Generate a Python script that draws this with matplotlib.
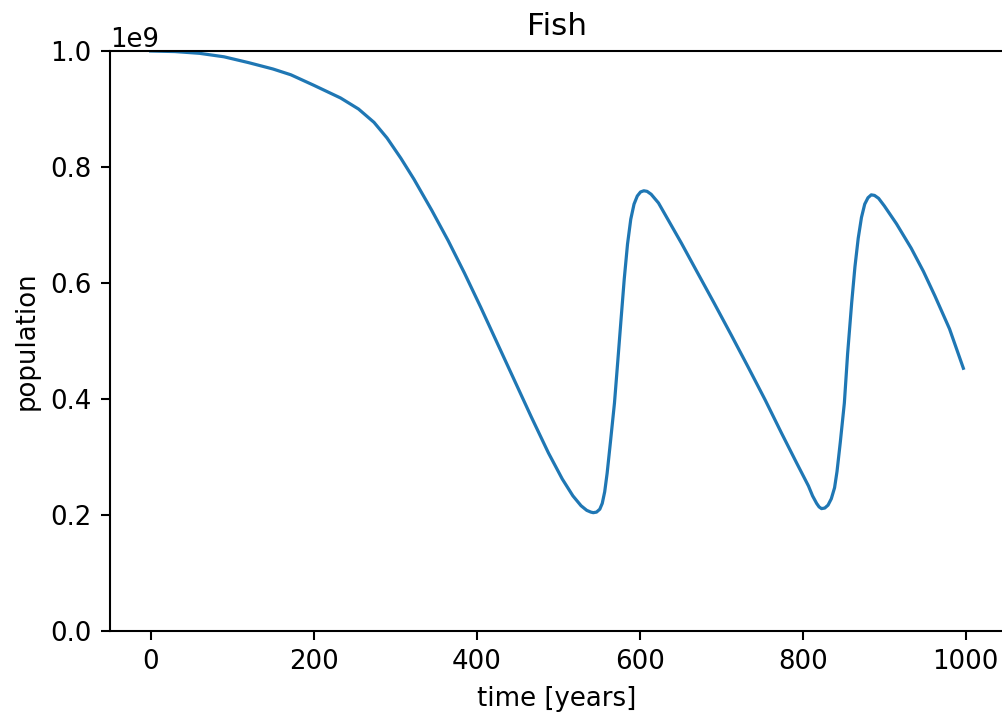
import numpy as np
import matplotlib
matplotlib.use("Agg")
import matplotlib.pyplot as plt

# Fish population over time (population in units of 1e9)
years = [0, 30, 60, 90, 120, 150, 172, 200, 233, 255, 274, 290, 307, 323,
         345, 365, 385, 405, 425, 446, 467, 488, 505, 518, 528, 535, 540,
         543, 547, 551, 554, 557, 560, 564, 569, 573, 577, 581, 585, 589,
         593, 597, 601, 605, 609, 614, 623, 636, 651, 670, 691, 712, 733,
         754, 774, 792, 807, 812, 817, 820, 823, 827, 831, 835, 839, 842,
         846, 851, 855, 860, 864, 868, 872, 876, 880, 884, 888, 893, 900,
         915, 933, 948, 962, 980, 997]
population = [1.000, 0.999, 0.996, 0.990, 0.980, 0.969, 0.959, 0.941, 0.919,
              0.900, 0.877, 0.850, 0.815, 0.779, 0.725, 0.673, 0.617, 0.558,
              0.497, 0.433, 0.369, 0.307, 0.262, 0.233, 0.216, 0.208, 0.205,
              0.204, 0.205, 0.210, 0.220, 0.240, 0.272, 0.325, 0.393, 0.464,
              0.536, 0.607, 0.667, 0.710, 0.736, 0.750, 0.757, 0.759, 0.758,
              0.753, 0.738, 0.706, 0.669, 0.620, 0.566, 0.511, 0.455, 0.398,
              0.341, 0.291, 0.250, 0.233, 0.220, 0.214, 0.211, 0.212, 0.217,
              0.228, 0.247, 0.275, 0.325, 0.393, 0.478, 0.566, 0.628, 0.677,
              0.713, 0.736, 0.747, 0.752, 0.751, 0.746, 0.733, 0.702, 0.660,
              0.620, 0.578, 0.521, 0.453]

S = 1.87
plt.rcParams.update({
    "font.family": "DejaVu Sans",
    "font.size": 10 * S,
    "lines.linewidth": 2.3,
    "lines.solid_joinstyle": "round",
    "axes.linewidth": 0.8 * S,
    "xtick.major.size": 3.5 * S,
    "ytick.major.size": 3.5 * S,
    "xtick.major.width": 0.8 * S,
    "ytick.major.width": 0.8 * S,
    "xtick.major.pad": 3.5 * S,
    "ytick.major.pad": 3.5 * S,
    "axes.titlepad": 6 * S,
    "axes.labelpad": 4 * S,
})

fig = plt.figure(figsize=(10.02, 7.13), dpi=100)
ax = fig.add_axes([110 / 1002, 82 / 713, 894 / 1002, 580 / 713])

ax.plot(np.array(years), np.array(population) * 1e9, color="#1f77b4")
ax.set_ylim(0, 1.0e9)
ax.set_title("Fish")
ax.set_xlabel("time [years]")
ax.set_ylabel("population")

fig.savefig("out.png", dpi=100)
